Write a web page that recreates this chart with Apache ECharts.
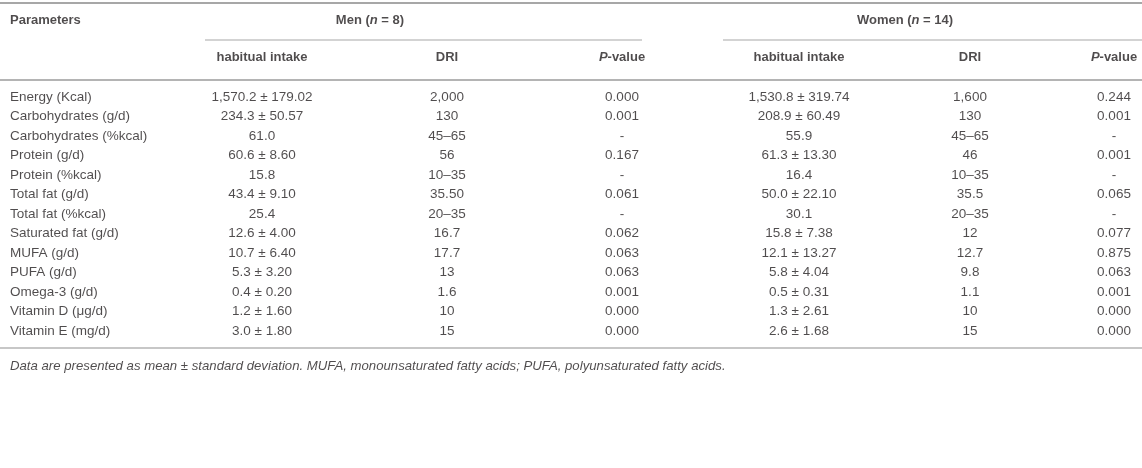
<!DOCTYPE html>
<html>
<head>
<meta charset="utf-8">
<script src="https://cdn.jsdelivr.net/npm/echarts@6/dist/echarts.min.js"></script>
<style>
html, body { margin: 0; padding: 0; background: #fff; }
#main { width: 1142px; height: 468px; }
</style>
</head>
<body>
<div id="main"></div>
<script>
// table data
var rowNames = ['Energy (Kcal)', 'Carbohydrates (g/d)', 'Carbohydrates (%kcal)', 'Protein (g/d)',
    'Protein (%kcal)', 'Total fat (g/d)', 'Total fat (%kcal)', 'Saturated fat (g/d)', 'MUFA (g/d)',
    'PUFA (g/d)', 'Omega-3 (g/d)', 'Vitamin D (\u03bcg/d)', 'Vitamin E (mg/d)'];
var menIntake = ['1,570.2 \u00b1 179.02', '234.3 \u00b1 50.57', '61.0', '60.6 \u00b1 8.60', '15.8',
    '43.4 \u00b1 9.10', '25.4', '12.6 \u00b1 4.00', '10.7 \u00b1 6.40', '5.3 \u00b1 3.20',
    '0.4 \u00b1 0.20', '1.2 \u00b1 1.60', '3.0 \u00b1 1.80'];
var menDri = ['2,000', '130', '45\u201365', '56', '10\u201335', '35.50', '20\u201335', '16.7', '17.7', '13', '1.6', '10', '15'];
var menP = ['0.000', '0.001', '-', '0.167', '-', '0.061', '-', '0.062', '0.063', '0.063', '0.001', '0.000', '0.000'];
var womenIntake = ['1,530.8 \u00b1 319.74', '208.9 \u00b1 60.49', '55.9', '61.3 \u00b1 13.30', '16.4',
    '50.0 \u00b1 22.10', '30.1', '15.8 \u00b1 7.38', '12.1 \u00b1 13.27', '5.8 \u00b1 4.04',
    '0.5 \u00b1 0.31', '1.3 \u00b1 2.61', '2.6 \u00b1 1.68'];
var womenDri = ['1,600', '130', '45\u201365', '46', '10\u201335', '35.5', '20\u201335', '12', '12.7', '9.8', '1.1', '10', '15'];
var womenP = ['0.244', '0.001', '-', '0.001', '-', '0.065', '-', '0.077', '0.875', '0.063', '0.001', '0.000', '0.000'];

var firstHeader = 'Parameters';
var groupHeaders = ['{b|Men (}{bi|n}{b| = 8)}', '{b|Women (}{bi|n}{b| = 14)}'];
var subHeaders = ['{b|habitual intake}', '{b|DRI}', '{bi|P}{b|-value}'];
var footnote = 'Data are presented as mean \u00b1 standard deviation. MUFA, monounsaturated fatty acids; PUFA, polyunsaturated fatty acids.';

// layout (x in px along the grid, y in row units)
var colX = [10, 262, 447, 622, 799, 970, 1114];
var groupX = [370, 905];
var groupSpan = [[205, 642], [723, 1142]];
var yHead1 = -3.92, yHead2 = -2.0, yFoot = 13.8;
var yTopRule = -4.82, yGroupRule = -2.92, yHeadRule = -0.9, yBottomRule = 12.87;

var FONT = '"Liberation Sans", Arial, Helvetica, sans-serif';
var TEXT = '#231f20';

var rich = {
    b: { fontFamily: FONT, fontSize: 13, fontWeight: 'bold', color: TEXT },
    bi: { fontFamily: FONT, fontSize: 13, fontWeight: 'bold', fontStyle: 'italic', color: TEXT }
};

function cell(x, y, text, align, extra) {
    var lab = {
        show: true,
        position: 'inside',
        align: align,
        verticalAlign: 'middle',
        formatter: text,
        fontFamily: FONT,
        fontSize: 13.5,
        color: TEXT,
        rich: rich
    };
    if (extra) {
        for (var k in extra) lab[k] = extra[k];
    }
    return { value: [x, y], label: lab };
}

var cells = [];
cells.push(cell(colX[0], yHead1, firstHeader, 'left', { fontWeight: 'bold', fontSize: 13 }));
for (var g = 0; g < 2; g++) {
    cells.push(cell(groupX[g], yHead1, groupHeaders[g], 'center'));
    for (var s = 0; s < 3; s++) {
        cells.push(cell(colX[1 + g * 3 + s], yHead2, subHeaders[s], 'center'));
    }
}
var cols = [menIntake, menDri, menP, womenIntake, womenDri, womenP];
for (var i = 0; i < rowNames.length; i++) {
    cells.push(cell(colX[0], i, rowNames[i], 'left'));
    for (var c = 0; c < cols.length; c++) {
        cells.push(cell(colX[c + 1], i, cols[c][i], 'center'));
    }
}
cells.push(cell(colX[0], yFoot, footnote, 'left', { fontStyle: 'italic', fontSize: 13.2 }));

function rule(x0, x1, y, width, color) {
    return [
        { coord: [x0, y], lineStyle: { width: width, color: color, type: 'solid' } },
        { coord: [x1, y] }
    ];
}

var rules = [
    rule(0, 1142, yTopRule, 2, '#a7a7a7'),
    rule(groupSpan[0][0], groupSpan[0][1], yGroupRule, 1.5, '#c4c4c4'),
    rule(groupSpan[1][0], groupSpan[1][1], yGroupRule, 1.5, '#c4c4c4'),
    rule(0, 1142, yHeadRule, 2, '#b4b4b4'),
    rule(0, 1142, yBottomRule, 1.5, '#b4b4b4')
];

var option = {
    backgroundColor: '#ffffff',
    animation: false,
    grid: { left: 0, right: 0, top: 0, bottom: 0 },
    xAxis: { type: 'value', min: 0, max: 1142, show: false },
    yAxis: { type: 'value', min: -4.97, max: 19.03, inverse: true, show: false },
    series: [
        {
            type: 'scatter',
            symbolSize: 0,
            silent: true,
            data: cells,
            markLine: {
                silent: true,
                symbol: 'none',
                label: { show: false },
                data: rules
            }
        }
    ]
};

var myChart = echarts.init(document.getElementById('main'));
myChart.setOption(option);
</script>
</body>
</html>
